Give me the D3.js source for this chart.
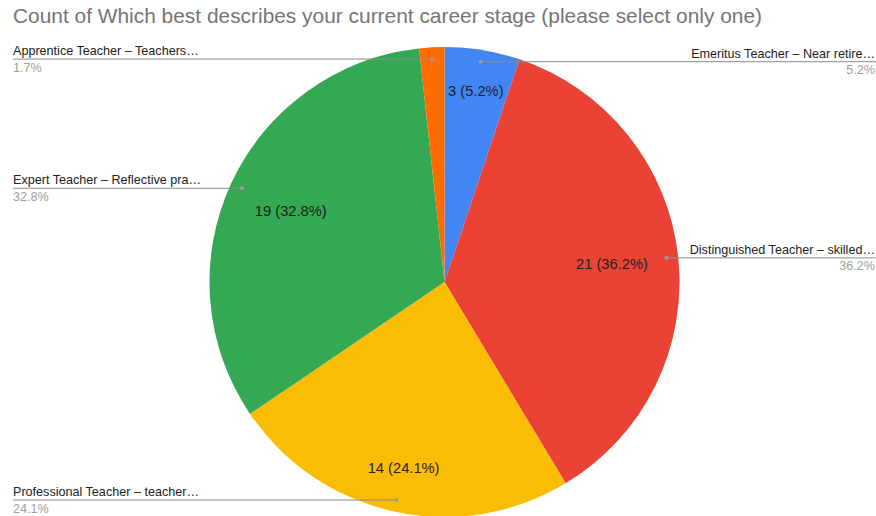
<!DOCTYPE html>
<html>
<head>
<meta charset="utf-8">
<script src="https://cdn.jsdelivr.net/npm/d3@7"></script>
<style>
  html, body { margin: 0; padding: 0; background: #fff; }
  svg { display: block; font-family: "Liberation Sans", Arial, sans-serif; }
</style>
</head>
<body>
<svg id="chart" width="876" height="516"></svg>
<script>
// Career stage responses, in clockwise order starting at 12 o'clock
const categories = [
  "Emeritus Teacher – Near retire…",
  "Distinguished Teacher – skilled…",
  "Professional Teacher – teacher…",
  "Expert Teacher – Reflective pra…",
  "Apprentice Teacher – Teachers…"
];
const counts = [3, 21, 14, 19, 1];
const colors = ["#4285f4", "#ea4335", "#fbbc04", "#34a853", "#ff6d01"];
const titleText = "Count of Which best describes your current career stage (please select only one)";

const W = 876, H = 516;
const cx = 444.5, cy = 282, R = 235;
const total = d3.sum(counts);
const fmtPct = v => (v / total * 100).toFixed(1) + "%";

const svg = d3.select("#chart");

svg.append("text")
  .attr("x", 13).attr("y", 23)
  .attr("font-size", 20.9)
  .attr("fill", "#757575")
  .text(titleText);

const data = categories.map((c, i) => ({ label: c, value: counts[i], color: colors[i] }));
const pie = d3.pie().value(d => d.value).sort(null);
const arcs = pie(data);
const arc = d3.arc().innerRadius(0).outerRadius(R);

const g = svg.append("g").attr("transform", `translate(${cx},${cy})`);

g.selectAll("path.slice")
  .data(arcs)
  .join("path")
  .attr("class", "slice")
  .attr("d", arc)
  .attr("fill", d => d.data.color);

// In-slice value labels: box pushed out until its outer corner reaches 0.872R
const inFont = 14.7;
const measure = svg.append("text").attr("font-size", inFont).attr("visibility", "hidden");
arcs.forEach(d => {
  if (d.data.value / total < 0.03) return;
  const txt = `${d.data.value} (${fmtPct(d.data.value)})`;
  measure.text(txt);
  const bb = measure.node().getBBox();
  const a = (d.startAngle + d.endAngle) / 2;
  const sx = Math.sin(a), sy = -Math.cos(a);
  const hw = bb.width / 2, hh = 7;
  const r = R * 0.872 - (hw * Math.abs(sx) + hh * Math.abs(sy));
  g.append("text")
    .attr("x", r * sx).attr("y", r * sy)
    .attr("text-anchor", "middle")
    .attr("dominant-baseline", "central")
    .attr("font-size", inFont)
    .attr("fill", "#1f1f1f")
    .text(txt);
});
measure.remove();

// Outside labels with leader lines
const leaderR = R * 0.95;
arcs.forEach(d => {
  const a = (d.startAngle + d.endAngle) / 2;
  const px = cx + leaderR * Math.sin(a);
  const py = cy - leaderR * Math.cos(a);
  const left = px < cx;
  const edge = left ? 13 : W;
  svg.append("line")
    .attr("x1", px).attr("y1", py)
    .attr("x2", edge).attr("y2", py)
    .attr("stroke", "#8a8a8a").attr("stroke-width", 1);
  svg.append("circle")
    .attr("cx", px).attr("cy", py).attr("r", 2)
    .attr("fill", "#9a9a9a");
  const tx = left ? 13 : W - 1;
  const anchor = left ? "start" : "end";
  svg.append("text")
    .attr("x", tx).attr("y", py - 4)
    .attr("text-anchor", anchor)
    .attr("font-size", 12.6)
    .attr("fill", "#222")
    .text(d.data.label);
  svg.append("text")
    .attr("x", tx).attr("y", py + 12.5)
    .attr("text-anchor", anchor)
    .attr("font-size", 12.6)
    .attr("fill", "#9e9e9e")
    .text(fmtPct(d.data.value));
});
</script>
</body>
</html>
